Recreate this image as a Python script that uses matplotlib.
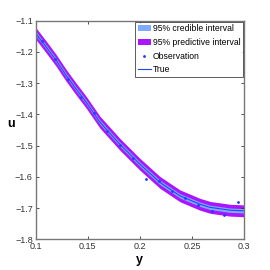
import numpy as np
import matplotlib
matplotlib.use("Agg")
import matplotlib.pyplot as plt

plt.rcParams['font.family'] = ['Liberation Sans', 'DejaVu Sans']

# true curve
y_vals = [0.100, 0.1099, 0.1195, 0.1291, 0.1387, 0.1483, 0.1617, 0.1809, 0.2001,
          0.2193, 0.2385, 0.2577, 0.2675, 0.2866, 0.300]
u_true = [-1.140, -1.183, -1.226, -1.274, -1.318, -1.360, -1.425, -1.496, -1.560,
          -1.618, -1.661, -1.688, -1.698, -1.707, -1.709]

# interval half widths
cred_half = 0.007
pred_half = 0.019

# observations (most hidden under the bands)
obs_y = [0.1063, 0.1188, 0.1313, 0.1438, 0.1563, 0.1688, 0.1813, 0.1938,
         0.2063, 0.2188, 0.2313, 0.2434, 0.256, 0.269, 0.281, 0.294]
obs_u = [-1.165, -1.222, -1.286, -1.343, -1.395, -1.452, -1.498, -1.540,
         -1.607, -1.615, -1.645, -1.667, -1.690, -1.709, -1.723, -1.680]

y_arr = np.array(y_vals)
u_arr = np.array(u_true)

fig = plt.figure(figsize=(2.7, 2.7), dpi=100)
ax = fig.add_axes([0.132, 0.114, 0.772, 0.809])

ax.fill_between(y_arr, u_arr - pred_half, u_arr + pred_half, color='#aa14ff',
                linewidth=0, label='95% predictive interval')
ax.fill_between(y_arr, u_arr - cred_half, u_arr + cred_half, color='#80aaff',
                linewidth=0, label='95% credible interval')
ax.plot(obs_y, obs_u, '.', color='#1a3cff', markersize=2, label='Observation')
ax.plot(y_arr, u_arr, color='#1e46ff', linewidth=0.8, label='True')

ax.set_xlim(0.1, 0.3)
ax.set_ylim(-1.8, -1.1)
ax.set_xticks([0.1, 0.15, 0.2, 0.25, 0.3])
ax.set_xticklabels(['0.1', '0.15', '0.2', '0.25', '0.3'])
ax.set_yticks([-1.8, -1.7, -1.6, -1.5, -1.4, -1.3, -1.2, -1.1])
ax.set_yticklabels(['\u22121.8', '\u22121.7', '\u22121.6', '\u22121.5',
                    '\u22121.4', '\u22121.3', '\u22121.2', '\u22121.1'])
ax.tick_params(direction='in', length=2.5, width=0.6, labelsize=6.5, pad=2,
               top=True, right=True, colors='#333333')
for s in ax.spines.values():
    s.set_color('#777777')
    s.set_linewidth(1.0)

ax.set_xlabel('y', fontsize=9, fontweight='bold', labelpad=2)
ax.set_ylabel('u', fontsize=9, fontweight='bold', rotation=0, labelpad=3)

h, l = ax.get_legend_handles_labels()
order = [1, 0, 2, 3]
leg = ax.legend([h[i] for i in order], [l[i] for i in order], loc='upper right',
                fontsize=6.2, frameon=True, fancybox=False, borderpad=0.3,
                handlelength=1.6, handletextpad=0.2, labelspacing=0.55,
                borderaxespad=0.1, edgecolor='#333333', markerscale=1.0)
leg.get_frame().set_linewidth(0.7)

fig.savefig('out.png', dpi=100)
